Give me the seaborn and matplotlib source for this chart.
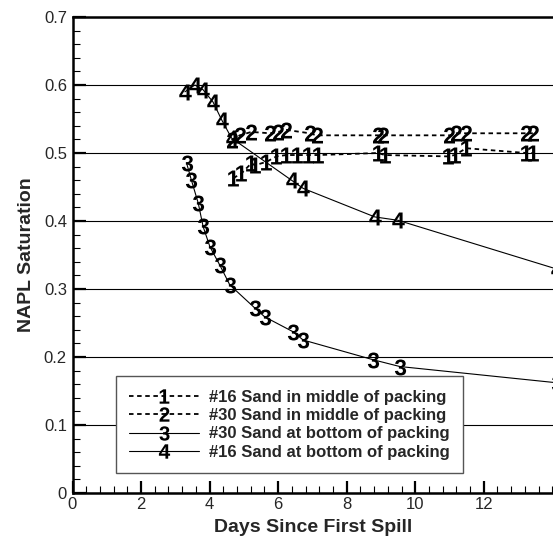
import seaborn as sns
import pandas as pd
import matplotlib.pyplot as plt
from matplotlib.ticker import MultipleLocator

sns.set_style("ticks")
plt.rcParams['font.family'] = ['Liberation Sans', 'DejaVu Sans']
plt.rcParams['mathtext.fontset'] = 'custom'
plt.rcParams['mathtext.rm'] = 'Liberation Sans'
plt.rcParams['mathtext.bf'] = 'Liberation Sans:bold'

# data
s1_days = [4.69, 4.93, 5.22, 5.32, 5.66, 5.95, 6.24, 6.54, 6.87, 7.17, 8.92, 9.11, 10.96, 11.15, 11.49, 13.24, 13.43]
s1_sat = [0.463, 0.470, 0.485, 0.482, 0.487, 0.495, 0.497, 0.497, 0.497, 0.497, 0.500, 0.497, 0.495, 0.497, 0.507, 0.500, 0.500]

s2_days = [4.64, 4.88, 5.22, 5.76, 6.00, 6.24, 6.92, 7.12, 8.92, 9.06, 11.00, 11.20, 11.49, 13.24, 13.43]
s2_sat = [0.519, 0.526, 0.531, 0.529, 0.531, 0.534, 0.529, 0.526, 0.526, 0.526, 0.526, 0.529, 0.529, 0.529, 0.529]

s3_days = [3.33, 3.47, 3.67, 3.81, 4.01, 4.30, 4.59, 5.32, 5.61, 6.44, 6.73, 8.77, 9.55, 14.15]
s3_sat = [0.485, 0.460, 0.426, 0.392, 0.362, 0.335, 0.306, 0.272, 0.259, 0.237, 0.225, 0.196, 0.186, 0.162]

s4_days = [3.28, 3.57, 3.81, 4.10, 4.35, 4.64, 6.39, 6.73, 8.82, 9.50, 14.15]
s4_sat = [0.590, 0.600, 0.593, 0.575, 0.549, 0.522, 0.460, 0.448, 0.406, 0.401, 0.329]

labels = ["#16 Sand in middle of packing", "#30 Sand in middle of packing",
          "#30 Sand at bottom of packing", "#16 Sand at bottom of packing"]
tags = ["1", "2", "3", "4"]

frames = []
for lab, xs, ys in zip(labels, [s1_days, s2_days, s3_days, s4_days], [s1_sat, s2_sat, s3_sat, s4_sat]):
    frames.append(pd.DataFrame({"days": xs, "sat": ys, "series": lab}))
df = pd.concat(frames, ignore_index=True)

fig = plt.figure(figsize=(5.53, 5.36), dpi=100)
ax = fig.add_axes([72.5 / 553, 43 / 536, 480.5 / 553, 476 / 536])

markers = {lab: r"$\mathbf{%s}$" % t for lab, t in zip(labels, tags)}
dashes = {labels[0]: (2.5, 2), labels[1]: (2.5, 2), labels[2]: "", labels[3]: ""}
palette = {lab: "black" for lab in labels}

sns.lineplot(data=df, x="days", y="sat", hue="series", style="series",
             hue_order=labels, style_order=labels, palette=palette,
             markers=markers, dashes=dashes, estimator=None, sort=False,
             markersize=11.5, markeredgewidth=0, legend=False, ax=ax)

for i, line in enumerate(ax.get_lines()[:4]):
    line.set_linewidth(1.3 if i < 2 else 0.8)
    line.set_clip_on(False)
    line.set_zorder(3)

ax.set_xlim(0, 14.02)
ax.set_ylim(0, 0.7)
ax.set_xticks([0, 2, 4, 6, 8, 10, 12])
ax.set_xticklabels(["0", "2", "4", "6", "8", "10", "12"])
ax.xaxis.set_minor_locator(MultipleLocator(0.4))
ax.set_yticks([0, 0.1, 0.2, 0.3, 0.4, 0.5, 0.6, 0.7])
ax.set_yticklabels(["0", "0.1", "0.2", "0.3", "0.4", "0.5", "0.6", "0.7"])
ax.yaxis.set_minor_locator(MultipleLocator(0.02))

ax.grid(axis="y", which="major", color="black", linewidth=0.8)
ax.set_axisbelow(True)
ax.tick_params(which="major", direction="in", length=9, width=1.6, labelsize=12, pad=3, color="black")
ax.tick_params(which="minor", direction="in", length=5, width=0.8, color="black")
ax.tick_params(axis="y", pad=4)

for side in ["left", "bottom", "top"]:
    ax.spines[side].set_linewidth(1.8)
    ax.spines[side].set_color("black")
ax.spines["right"].set_visible(False)

ax.set_xlabel("Days Since First Spill", fontsize=14, fontweight="bold", labelpad=5)
ax.set_ylabel("NAPL Saturation", fontsize=14, fontweight="bold", labelpad=6)

leg = ax.legend(ax.get_lines()[:4], labels, loc="lower left",
                bbox_to_anchor=(0.09, 0.042), prop={"weight": "bold", "size": 12},
                handlelength=4.2, handletextpad=0.6, labelspacing=0.2,
                borderpad=0.8, borderaxespad=0, numpoints=1, fancybox=False,
                framealpha=1, edgecolor="#555555", markerscale=0.9)
leg.get_frame().set_linewidth(1.0)
leg.set_zorder(5)

fig.savefig("out.png", dpi=100)
